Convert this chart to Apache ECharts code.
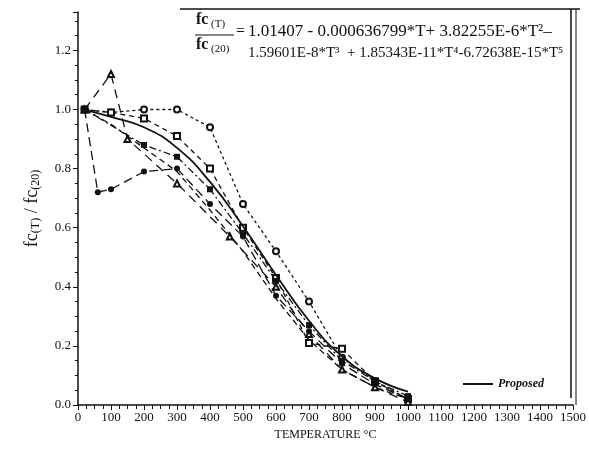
<!DOCTYPE html>
<html>
<head>
<meta charset="utf-8">
<title>fc(T)/fc(20)</title>
<script src="https://cdn.jsdelivr.net/npm/echarts@6/dist/echarts.min.js"></script>
<style>
  html, body { margin: 0; padding: 0; background: #fff; }
  #main { width: 589px; height: 461px; }
</style>
</head>
<body>
<div id="main"></div>
<script>
// data (temperature in C, strength ratio)
var propT = [20, 100, 200, 300, 400, 500, 600, 700, 800, 900, 1000];
var propV = [1.00, 0.975, 0.94, 0.87, 0.755, 0.605, 0.44, 0.285, 0.165, 0.09, 0.045];

var circT = [20, 100, 200, 300, 400, 500, 600, 700, 800, 900, 1000];
var circV = [1.0, 0.99, 1.0, 1.0, 0.94, 0.68, 0.52, 0.35, 0.16, 0.08, 0.02];

var sqT = [20, 100, 200, 300, 400, 500, 600, 700, 800, 900, 1000];
var sqV = [1.0, 0.99, 0.97, 0.91, 0.80, 0.60, 0.43, 0.21, 0.19, 0.08, 0.02];

var triT = [20, 100, 150, 300, 460, 600, 700, 800, 900, 1000];
var triV = [1.0, 1.12, 0.90, 0.75, 0.57, 0.40, 0.24, 0.12, 0.06, 0.01];

var dotT = [20, 60, 100, 200, 300, 400, 500, 600, 700, 800, 900, 1000];
var dotV = [1.0, 0.72, 0.73, 0.79, 0.80, 0.68, 0.57, 0.37, 0.25, 0.14, 0.07, 0.02];

var fsqT = [20, 200, 300, 400, 500, 600, 700, 800, 900, 1000];
var fsqV = [1.0, 0.88, 0.84, 0.73, 0.58, 0.42, 0.27, 0.15, 0.08, 0.03];

var dashT = [20, 100, 200, 300, 400, 500, 600, 700, 800, 900, 1000];
var dashV = [1.0, 0.95, 0.87, 0.79, 0.66, 0.52, 0.36, 0.22, 0.12, 0.06, 0.02];

var yTicks = ['0.0', '0.2', '0.4', '0.6', '0.8', '1.0', '1.2'];

function pairs(t, v) {
    var out = [];
    for (var i = 0; i < t.length; i++) out.push([t[i], v[i]]);
    return out;
}

var myChart = echarts.init(document.getElementById('main'));

function expSeries(name, t, v, sym, dash, size) {
    return {
        name: name, type: 'line', data: pairs(t, v),
        symbol: sym, symbolSize: size || 6, showAllSymbol: true,
        lineStyle: { color: '#111', width: 1.3, type: dash },
        itemStyle: { color: '#111', borderWidth: 1.2 },
        z: 2
    };
}

var option = {
    backgroundColor: '#fff',
    animation: false,
    grid: { left: 78, right: 16, top: 12, bottom: 56 },
    legend: {
        data: ['Proposed'],
        left: 458, top: 373,
        itemWidth: 30, itemHeight: 2, icon: 'rect',
        textStyle: { fontFamily: 'Liberation Serif', fontWeight: 'bold', fontStyle: 'italic', fontSize: 12, color: '#111' }
    },
    xAxis: {
        type: 'value', min: 0, max: 1500, interval: 100,
        name: 'TEMPERATURE °C', nameLocation: 'middle', nameGap: 22,
        nameTextStyle: { fontFamily: 'Liberation Serif', fontSize: 12, color: '#111' },
        axisLine: { lineStyle: { color: '#111', width: 1.5 } },
        axisTick: { length: 5, lineStyle: { color: '#111' } },
        minorTick: { show: true, splitNumber: 4, length: 4, lineStyle: { color: '#111' } },
        axisLabel: {
            fontFamily: 'Liberation Sans Narrow', fontSize: 13, color: '#111', margin: 6,
            formatter: function (v) { return String(v); }
        },
        splitLine: { show: false }
    },
    yAxis: {
        type: 'value', min: 0, max: 1.33, interval: 0.2,
        name: '{a|fc}{s|(T)}{a| / fc}{s|(20)}', nameLocation: 'middle', nameGap: 36,
        nameTextStyle: {
            rich: {
                a: { fontFamily: 'Liberation Serif', fontSize: 18, color: '#111' },
                s: { fontFamily: 'Liberation Serif', fontSize: 12, color: '#111', padding: [8, 0, 0, 0] }
            }
        },
        axisLine: { show: true, lineStyle: { color: '#111', width: 1.5 } },
        axisTick: { show: true, length: 5, lineStyle: { color: '#111' } },
        minorTick: { show: true, splitNumber: 4, length: 3, lineStyle: { color: '#111' } },
        axisLabel: {
            fontFamily: 'Liberation Sans Narrow', fontSize: 13, color: '#111', margin: 7,
            showMaxLabel: false,
            formatter: function (v) {
                var s = v.toFixed(1);
                return yTicks.indexOf(s) >= 0 && Math.abs(v * 5 - Math.round(v * 5)) < 1e-6 ? s : '';
            }
        },
        splitLine: { show: false }
    },
    graphic: [
        { type: 'line', shape: { x1: 180, y1: 9, x2: 580, y2: 9 }, style: { stroke: '#111', lineWidth: 1.5 } },
        { type: 'line', shape: { x1: 571, y1: 9, x2: 571, y2: 398 }, style: { stroke: '#111', lineWidth: 1.5 } },
        { type: 'line', shape: { x1: 576, y1: 9, x2: 576, y2: 405 }, style: { stroke: '#111', lineWidth: 1 } },
        { type: 'text', left: 196, top: 12, style: { text: 'fc', font: 'bold 16px Liberation Serif', fill: '#111' } },
        { type: 'text', left: 211, top: 19, style: { text: '(T)', font: '11px Liberation Serif', fill: '#111' } },
        { type: 'line', shape: { x1: 195, y1: 35, x2: 234, y2: 35 }, style: { stroke: '#111', lineWidth: 1.2 } },
        { type: 'text', left: 196, top: 37, style: { text: 'fc', font: 'bold 16px Liberation Serif', fill: '#111' } },
        { type: 'text', left: 211, top: 44, style: { text: '(20)', font: '11px Liberation Serif', fill: '#111' } },
        { type: 'text', left: 236, top: 24, style: { text: '=', font: '16px Liberation Serif', fill: '#111' } },
        { type: 'text', left: 248, top: 23, style: { text: '1.01407 - 0.000636799*T+ 3.82255E-6*T²–', font: '17px Liberation Serif', fill: '#111' } },
        { type: 'text', left: 248, top: 46, style: { text: '1.59601E-8*T³  + 1.85343E-11*T⁴-6.72638E-15*T⁵', font: '15px Liberation Serif', fill: '#111' } }
    ],
    series: [
        {
            name: 'Proposed', type: 'line', data: pairs(propT, propV), smooth: true,
            showSymbol: false, lineStyle: { color: '#111', width: 1.8 }, itemStyle: { color: '#111' }, z: 3
        },
        expSeries('s1', circT, circV, 'emptyCircle', [3, 3]),
        expSeries('s2', sqT, sqV, 'emptyRect', [5, 4]),
        expSeries('s3', triT, triV, 'emptyTriangle', [9, 6]),
        expSeries('s4', dotT, dotV, 'circle', [9, 5]),
        expSeries('s5', fsqT, fsqV, 'rect', [7, 3, 2, 3]),
        expSeries('s6', dashT, dashV, 'none', [6, 4])
    ]
};
myChart.setOption(option);
</script>
</body>
</html>
